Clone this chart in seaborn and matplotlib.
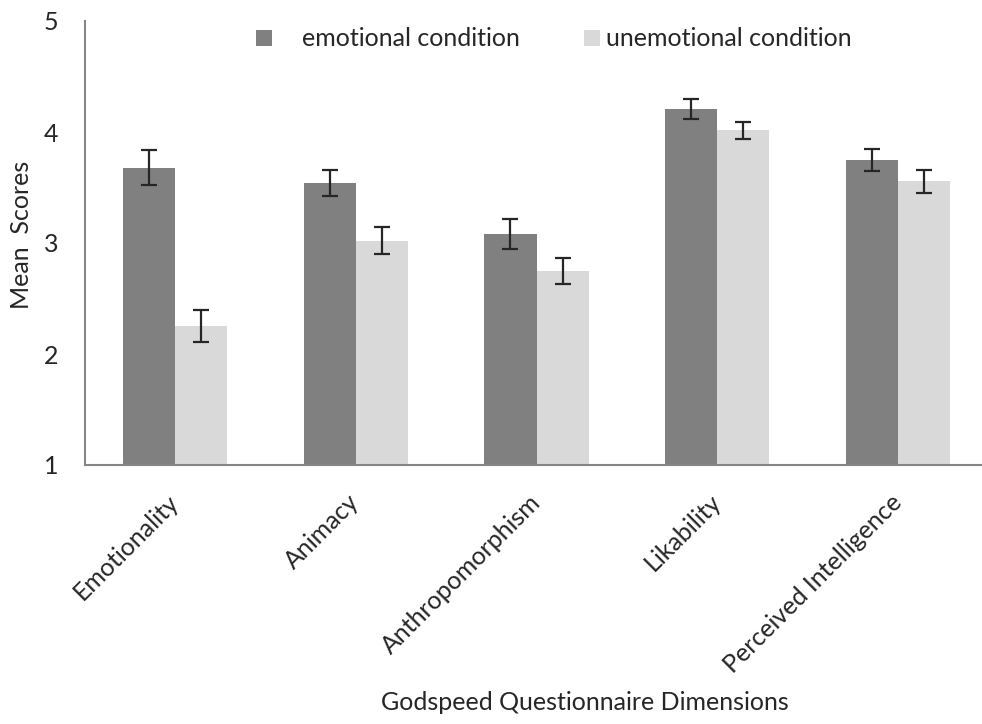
import numpy as np
import pandas as pd
import matplotlib
matplotlib.use("Agg")
import matplotlib.pyplot as plt
import seaborn as sns
from matplotlib.patches import Patch

dimensions = ["Emotionality", "Animacy", "Anthropomorphism", "Likability", "Perceived Intelligence"]
conditions = ["emotional condition", "unemotional condition"]
emotional_means = [3.68, 3.54, 3.08, 4.21, 3.745]
unemotional_means = [2.25, 3.02, 2.75, 4.015, 3.555]
emotional_err = [0.155, 0.115, 0.135, 0.09, 0.10]
unemotional_err = [0.145, 0.12, 0.115, 0.075, 0.105]
yticks = [1, 2, 3, 4, 5]

dark = "#808080"
light = "#d9d9d9"
axis_gray = "#868686"
FS = 18

sns.set_style("white")
plt.rcParams["font.family"] = ["Lato", "DejaVu Sans"]

df = pd.DataFrame({
    "dimension": dimensions * 2,
    "score": emotional_means + unemotional_means,
    "condition": [conditions[0]] * len(dimensions) + [conditions[1]] * len(dimensions),
})
errs = {conditions[0]: emotional_err, conditions[1]: unemotional_err}

fig = plt.figure(figsize=(9.82, 7.24), dpi=100)
ax = fig.add_axes([85 / 982, (724 - 465) / 724, 903 / 982, 444 / 724])

sns.barplot(data=df, x="dimension", y="score", hue="condition",
            order=dimensions, hue_order=conditions,
            palette=[dark, light], width=0.578, errorbar=None,
            linewidth=0, saturation=1, ax=ax, legend=False)

for cont, cond in zip(ax.containers, conditions):
    xs = [b.get_x() + b.get_width() / 2 for b in cont]
    hs = [b.get_height() for b in cont]
    ax.errorbar(xs, hs, yerr=errs[cond], fmt="none", ecolor="#262626",
                elinewidth=1.6, capsize=6, capthick=1.6, zorder=5)

ax.set_xlim(-0.5, 4.5)
ax.set_ylim(1, 5)
ax.set_yticks(yticks)
ax.set_yticklabels([str(t) for t in yticks], fontsize=FS)
ax.set_xticks(range(len(dimensions)))
ax.set_xticklabels(dimensions, rotation=45, ha="right", va="center",
                   rotation_mode="anchor", fontsize=FS)
ax.set_xticks(np.arange(-0.5, 5.0, 1.0), minor=True)
ax.tick_params(axis="x", which="major", length=0, pad=24)
ax.tick_params(axis="x", which="minor", length=8, width=1.5, color=axis_gray, direction="out")
ax.tick_params(axis="y", which="major", length=8, width=1.5, color=axis_gray, direction="out", pad=11)
ax.tick_params(axis="y", which="minor", length=0)
ax.set_xlabel("")
ax.set_ylabel("")

for s in ["top", "right"]:
    ax.spines[s].set_visible(False)
for s in ["left", "bottom"]:
    ax.spines[s].set_color(axis_gray)
    ax.spines[s].set_linewidth(1.5)

fig.text(585 / 982, 1 - 702 / 724, "Godspeed Questionnaire Dimensions",
         ha="center", va="center", fontsize=FS)
fig.text(22 / 982, 1 - 235 / 724, "Mean  Scores", rotation=90,
         ha="center", va="center", fontsize=FS)

# legend: two single-entry legends to reproduce the uneven spacing
common = dict(loc="center left", bbox_transform=fig.transFigure, frameon=False,
              fontsize=FS, handlelength=0.64, handleheight=0.6,
              borderaxespad=0, borderpad=0)
leg1 = ax.legend([Patch(facecolor=dark, edgecolor="none")], [conditions[0]],
                 bbox_to_anchor=(256 / 982, 1 - 39 / 724), handletextpad=1.2, **common)
ax.add_artist(leg1)
ax.legend([Patch(facecolor=light, edgecolor="none")], [conditions[1]],
          bbox_to_anchor=(584 / 982, 1 - 39 / 724), handletextpad=0.25, **common)

fig.savefig("out.png", dpi=100)
